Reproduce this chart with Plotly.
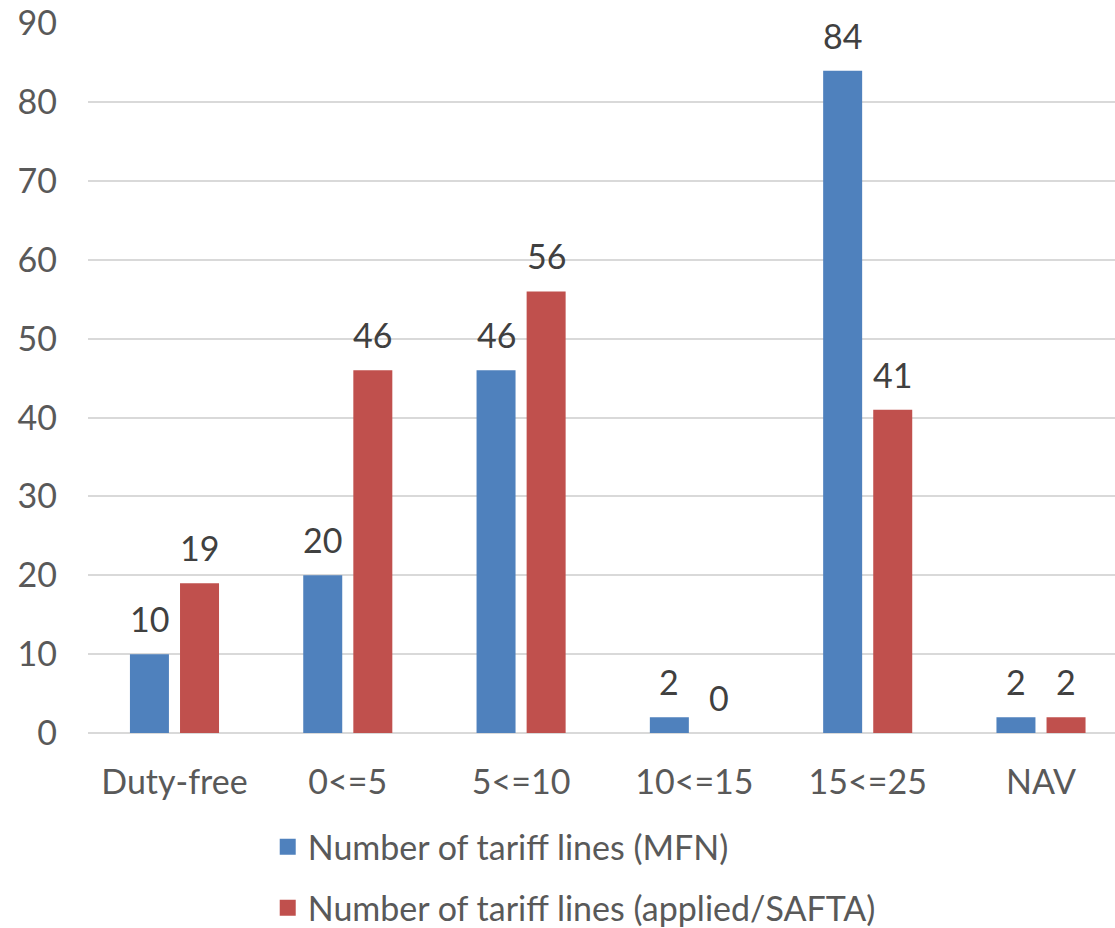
import plotly.graph_objects as go

# Tariff bands and number of tariff lines in each
categories = ["Duty-free", "0<=5", "5<=10", "10<=15", "15<=25", "NAV"]
mfn_lines = [10, 20, 46, 2, 84, 2]
safta_lines = [19, 46, 56, 0, 41, 2]
y_ticks = [0, 10, 20, 30, 40, 50, 60, 70, 80, 90]

series_names = ["Number of tariff lines (MFN)",
                "Number of tariff lines (applied/SAFTA)"]
series_colors = ["#4F81BD", "#C0504D"]

FONT = "Lato"
FS = 34
TICK_COLOR = "#595959"
LABEL_COLOR = "#404040"
GRID_COLOR = "#D9D9D9"

BAR_W = 0.225
OFFSETS = [-0.257, 0.032]

x_idx = list(range(len(categories)))

fig = go.Figure()
annotations = []
for name, vals, color, off, grp in zip(series_names, [mfn_lines, safta_lines],
                                       series_colors, OFFSETS, ["a", "b"]):
    fig.add_trace(go.Bar(
        x=x_idx, y=vals, name=name, width=BAR_W, offset=off,
        marker=dict(color=color, line=dict(width=0)),
        legendgroup=grp, showlegend=False,
    ))
    # legend entry with a larger square swatch
    fig.add_trace(go.Scatter(
        x=[None], y=[None], mode="markers", name=name, legendgroup=grp,
        marker=dict(symbol="square", size=17, color=color,
                    line=dict(width=0)),
        hoverinfo="skip",
    ))
    for xi, v in zip(x_idx, vals):
        annotations.append(dict(
            x=xi + off + BAR_W / 2, y=v, xref="x", yref="y",
            text=str(v), showarrow=False, yanchor="bottom", yshift=13,
            font=dict(family=FONT, size=FS, color=LABEL_COLOR),
        ))

fig.update_layout(
    width=1115, height=928,
    margin=dict(l=88, r=0, t=23, b=195),
    paper_bgcolor="white", plot_bgcolor="white",
    font=dict(family=FONT, size=FS, color=TICK_COLOR),
    showlegend=True,
    legend=dict(
        orientation="v", x=0.175, xanchor="left",
        y=0.1185, yref="container", yanchor="top",
        font=dict(family=FONT, size=FS, color=TICK_COLOR),
        tracegroupgap=14, bgcolor="rgba(0,0,0,0)", itemsizing="trace",
    ),
    annotations=annotations,
    xaxis=dict(
        range=[-0.499, 5.427], tickmode="array", tickvals=x_idx,
        ticktext=categories, showgrid=False, zeroline=False,
        showline=False, ticks="", ticklabelstandoff=26, automargin=False,
        tickfont=dict(family=FONT, size=FS, color=TICK_COLOR),
    ),
    yaxis=dict(
        range=[0, 90.05], tickmode="array", tickvals=y_ticks,
        showgrid=True, gridcolor=GRID_COLOR, gridwidth=2,
        zeroline=True, zerolinecolor=GRID_COLOR, zerolinewidth=2,
        showline=False, ticks="", ticklabelstandoff=30, automargin=False,
        tickfont=dict(family=FONT, size=FS, color=TICK_COLOR),
    ),
)

fig.write_html("out.html")
